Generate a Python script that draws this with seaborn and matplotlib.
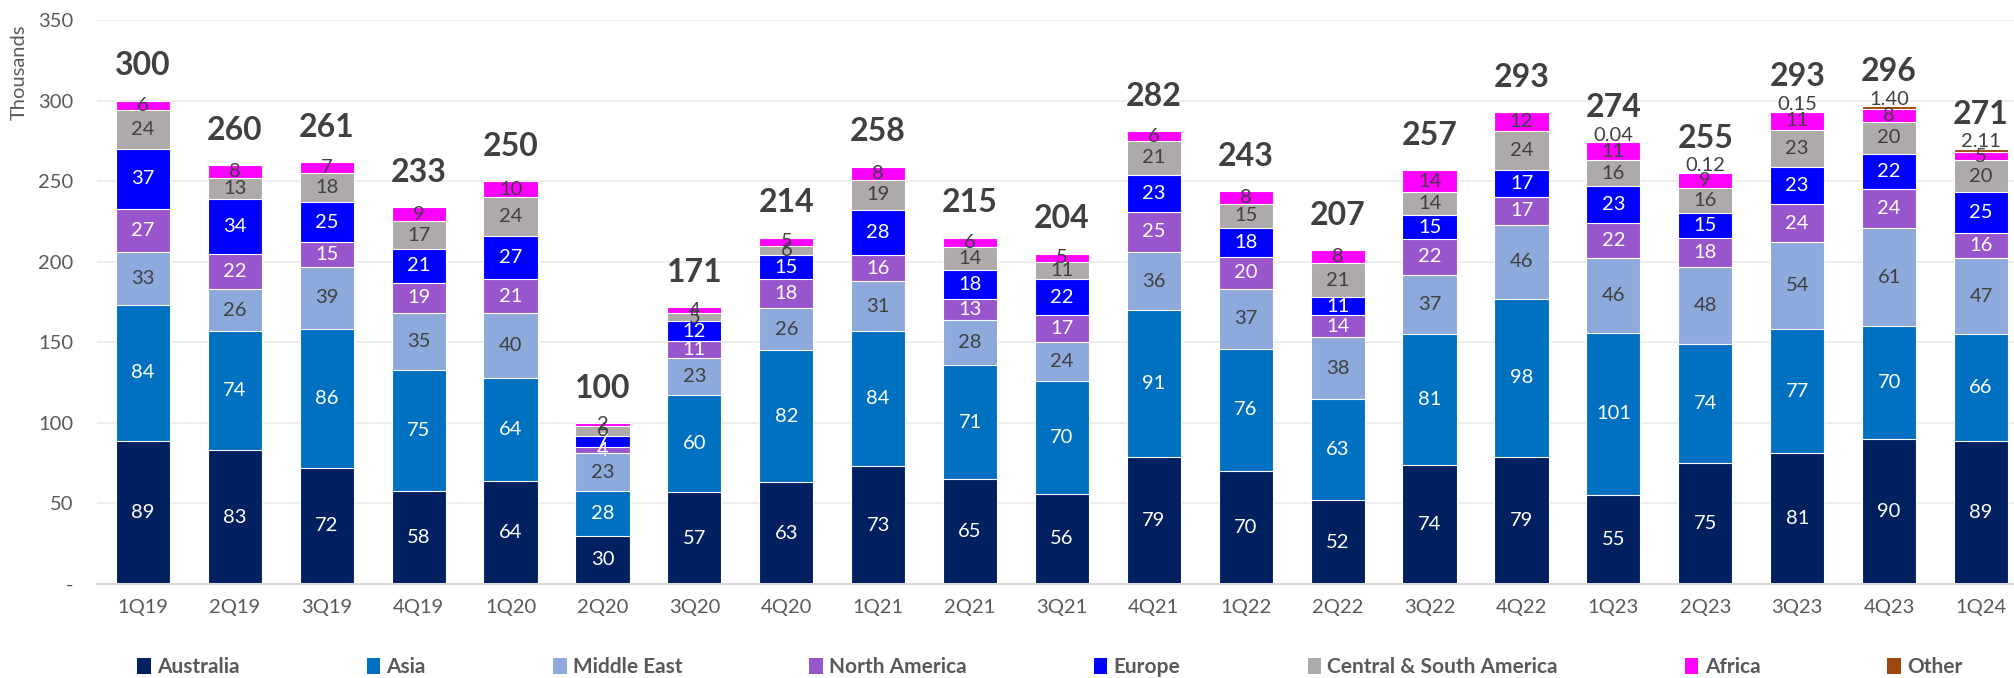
import matplotlib
matplotlib.use("Agg")
import matplotlib.pyplot as plt
from matplotlib.patches import Patch
import numpy as np
import pandas as pd
import seaborn as sns

# quarterly arrivals by region, thousands
quarters = ["1Q19", "2Q19", "3Q19", "4Q19", "1Q20", "2Q20", "3Q20", "4Q20",
            "1Q21", "2Q21", "3Q21", "4Q21", "1Q22", "2Q22", "3Q22", "4Q22",
            "1Q23", "2Q23", "3Q23", "4Q23", "1Q24"]
australia = [89, 83, 72, 58, 64, 30, 57, 63, 73, 65, 56, 79, 70, 52, 74, 79, 55, 75, 81, 90, 89]
asia = [84, 74, 86, 75, 64, 28, 60, 82, 84, 71, 70, 91, 76, 63, 81, 98, 101, 74, 77, 70, 66]
middle_east = [33, 26, 39, 35, 40, 23, 23, 26, 31, 28, 24, 36, 37, 38, 37, 46, 46, 48, 54, 61, 47]
north_america = [27, 22, 15, 19, 21, 4, 11, 18, 16, 13, 17, 25, 20, 14, 22, 17, 22, 18, 24, 24, 16]
europe = [37, 34, 25, 21, 27, 7, 12, 15, 28, 18, 22, 23, 18, 11, 15, 17, 23, 15, 23, 22, 25]
central_south_america = [24, 13, 18, 17, 24, 6, 5, 6, 19, 14, 11, 21, 15, 21, 14, 24, 16, 16, 23, 20, 20]
africa = [6, 8, 7, 9, 10, 2, 4, 5, 8, 6, 5, 6, 8, 8, 14, 12, 11, 9, 11, 8, 5]
other = [0, 0, 0, 0, 0, 0, 0, 0, 0, 0, 0, 0, 0, 0, 0, 0, 0.04, 0.12, 0.15, 1.40, 2.11]
totals = [300, 260, 261, 233, 250, 100, 171, 214, 258, 215, 204, 282, 243, 207, 257, 293,
          274, 255, 293, 296, 271]

series = [
    ("Australia", australia, "#002060", "white"),
    ("Asia", asia, "#0070C0", "white"),
    ("Middle East", middle_east, "#8EA9DB", "#404040"),
    ("North America", north_america, "#9955CC", "white"),
    ("Europe", europe, "#0000FF", "white"),
    ("Central & South America", central_south_america, "#AEAAAA", "#404040"),
    ("Africa", africa, "#FF00FF", "#404040"),
    ("Other", other, "#9E480E", "#404040"),
]

df = pd.DataFrame({name: vals for name, vals, _, _ in series}, index=quarters)
cum = df.cumsum(axis=1)

sns.set_theme(style="white")
plt.rcParams["font.family"] = ["Lato", "DejaVu Sans"]

fig = plt.figure(figsize=(20.15, 6.78), dpi=100)
ax = fig.add_axes([97 / 2015, 94 / 678, 1918 / 2015, 564 / 678])

# stacked bars: draw cumulative heights from the top series down
for name, vals, color, _ in reversed(series):
    sns.barplot(x=quarters, y=cum[name].values, order=quarters, color=color,
                saturation=1, width=0.59, edgecolor="white", linewidth=0.8, ax=ax)

# segment labels
for name, vals, color, txtcolor in series:
    for i, v in enumerate(vals):
        if v <= 0:
            continue
        if name == "Other":
            ax.annotate(f"{v:.2f}", (i, cum[name].iloc[i]), xytext=(0, 5),
                        textcoords="offset points", ha="center", va="center",
                        fontsize=14.5, color=txtcolor)
        else:
            ax.text(i, cum[name].iloc[i] - v / 2, f"{v:g}", ha="center", va="center",
                    fontsize=14.5, color=txtcolor)

# totals above bars
for i, t in enumerate(totals):
    ax.annotate(str(t), (i, cum["Other"].iloc[i]), xytext=(0, 25),
                textcoords="offset points", ha="center", va="center",
                fontsize=23, fontweight="bold", color="#404040")

ax.set_ylim(0, 350)
ax.set_xlim(-0.5, 20.37)
ax.set_yticks(range(0, 351, 50))
ax.set_yticklabels(["-"] + [str(v) for v in range(50, 351, 50)])
ax.set_xlabel("")
ax.set_ylabel("")
ax.yaxis.grid(True, color="#EBEBEB", linewidth=1.2)
ax.set_axisbelow(True)
for s in ["left", "right", "top"]:
    ax.spines[s].set_visible(False)
ax.spines["bottom"].set_color("#D9D9D9")
ax.spines["bottom"].set_linewidth(1.5)
ax.tick_params(axis="y", length=0, pad=17, labelsize=14.5, labelcolor="#595959")
ax.tick_params(axis="x", length=0, pad=11, labelsize=14.5, labelcolor="#595959")

fig.text(19 / 2015, 1 - 72 / 678, "Thousands", rotation=90, ha="center", va="center",
         fontsize=14.5, color="#595959")

handles = [Patch(facecolor=c, edgecolor="none") for _, _, c, _ in series]
labels = [n for n, _, _, _ in series]
leg = fig.legend(handles, labels, loc="center", bbox_to_anchor=(1050 / 2015, 0.016),
                 ncol=8, frameon=False, fontsize=15, handlelength=0.65, handleheight=0.85,
                 handletextpad=0.3, columnspacing=6.1)
for t in leg.get_texts():
    t.set_color("#595959")
    t.set_fontweight("bold")

fig.savefig("out.png", dpi=100)
